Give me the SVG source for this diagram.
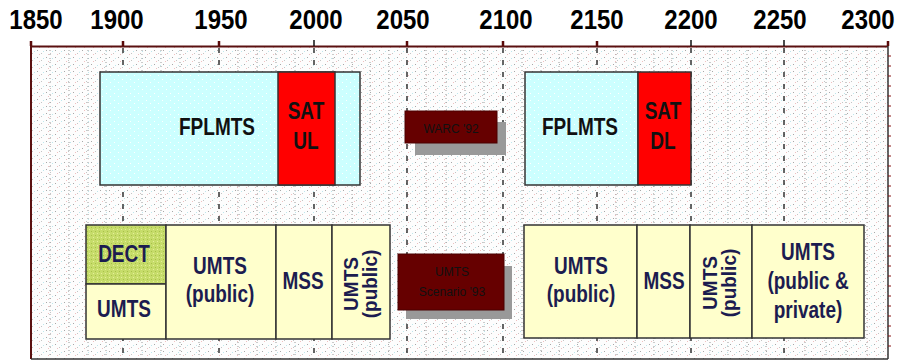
<svg xmlns="http://www.w3.org/2000/svg" width="898" height="362" viewBox="0 0 898 362">
<defs>
<pattern id="speck" width="9" height="7" patternUnits="userSpaceOnUse">
<rect width="9" height="7" fill="#fdfdfd"/>
<rect x="1" y="1" width="1" height="1" fill="#a8a8a8"/>
<rect x="5" y="4" width="1" height="1" fill="#c4c4c4"/>
<rect x="3" y="5" width="1" height="1" fill="#f2c0c0"/>
<rect x="7" y="2" width="1" height="1" fill="#bde8ee"/>
</pattern>
<pattern id="cyanspeck" width="8" height="7" patternUnits="userSpaceOnUse">
<rect width="8" height="7" fill="#ccffff"/>
<rect x="2" y="2" width="1" height="1" fill="#ffffff"/>
<rect x="6" y="5" width="1" height="1" fill="#ffffff"/>
</pattern>
<pattern id="greenspeck" width="4" height="4" patternUnits="userSpaceOnUse">
<rect width="4" height="4" fill="#c6dc6a"/>
<rect x="1" y="1" width="1" height="1" fill="#e6ee9a"/>
<rect x="3" y="3" width="1" height="1" fill="#a8c048"/>
</pattern>
</defs>
<style>
.yr{font-family:"Liberation Sans",Arial,sans-serif;font-weight:bold;font-size:24px;fill:#000;text-anchor:middle}
.lbl{font-family:"Liberation Sans",Arial,sans-serif;font-weight:bold;font-size:19px;text-anchor:middle}
.dk{fill:#111}
.nv{fill:#1c1c50}
.sm{font-family:"Liberation Sans",Arial,sans-serif;font-size:12px;fill:#111;text-anchor:middle}
.box{stroke:#333;stroke-width:1.5}
.major{stroke:#333;stroke-width:1.5;stroke-dasharray:5 7}
.minor{stroke:#999;stroke-width:1;stroke-dasharray:1 3}
.tick{stroke:#5a0a0a;stroke-width:2.5}
</style>
<g id="axis">
<rect x="31" y="46" width="857" height="313" fill="url(#speck)"/>
<g id="grid">
<line class="minor" x1="50" y1="50" x2="50" y2="356"/>
<line class="minor" x1="69" y1="50" x2="69" y2="356"/>
<line class="minor" x1="88" y1="50" x2="88" y2="356"/>
<line class="minor" x1="106" y1="50" x2="106" y2="356"/>
<line class="minor" x1="142" y1="50" x2="142" y2="356"/>
<line class="minor" x1="161" y1="50" x2="161" y2="356"/>
<line class="minor" x1="180" y1="50" x2="180" y2="356"/>
<line class="minor" x1="199" y1="50" x2="199" y2="356"/>
<line class="minor" x1="238" y1="50" x2="238" y2="356"/>
<line class="minor" x1="257" y1="50" x2="257" y2="356"/>
<line class="minor" x1="276" y1="50" x2="276" y2="356"/>
<line class="minor" x1="295" y1="50" x2="295" y2="356"/>
<line class="minor" x1="333" y1="50" x2="333" y2="356"/>
<line class="minor" x1="352" y1="50" x2="352" y2="356"/>
<line class="minor" x1="370" y1="50" x2="370" y2="356"/>
<line class="minor" x1="389" y1="50" x2="389" y2="356"/>
<line class="minor" x1="426" y1="50" x2="426" y2="356"/>
<line class="minor" x1="446" y1="50" x2="446" y2="356"/>
<line class="minor" x1="465" y1="50" x2="465" y2="356"/>
<line class="minor" x1="484" y1="50" x2="484" y2="356"/>
<line class="minor" x1="522" y1="50" x2="522" y2="356"/>
<line class="minor" x1="541" y1="50" x2="541" y2="356"/>
<line class="minor" x1="559" y1="50" x2="559" y2="356"/>
<line class="minor" x1="578" y1="50" x2="578" y2="356"/>
<line class="minor" x1="616" y1="50" x2="616" y2="356"/>
<line class="minor" x1="635" y1="50" x2="635" y2="356"/>
<line class="minor" x1="654" y1="50" x2="654" y2="356"/>
<line class="minor" x1="672" y1="50" x2="672" y2="356"/>
<line class="minor" x1="710" y1="50" x2="710" y2="356"/>
<line class="minor" x1="728" y1="50" x2="728" y2="356"/>
<line class="minor" x1="747" y1="50" x2="747" y2="356"/>
<line class="minor" x1="766" y1="50" x2="766" y2="356"/>
<line class="minor" x1="805" y1="50" x2="805" y2="356"/>
<line class="minor" x1="826" y1="50" x2="826" y2="356"/>
<line class="minor" x1="846" y1="50" x2="846" y2="356"/>
<line class="minor" x1="867" y1="50" x2="867" y2="356"/>
<line class="major" x1="123" y1="48" x2="123" y2="358"/>
<line class="major" x1="219" y1="48" x2="219" y2="358"/>
<line class="major" x1="314" y1="48" x2="314" y2="358"/>
<line class="major" x1="407" y1="48" x2="407" y2="358"/>
<line class="major" x1="503" y1="48" x2="503" y2="358"/>
<line class="major" x1="597" y1="48" x2="597" y2="358"/>
<line class="major" x1="691" y1="48" x2="691" y2="358"/>
<line class="major" x1="784" y1="48" x2="784" y2="358"/>
</g>
<line x1="31" y1="46.5" x2="888" y2="46.5" stroke="#5a1010" stroke-width="2"/>
<line x1="31" y1="45" x2="31" y2="359" stroke="#5a1010" stroke-width="2"/>
<line x1="31" y1="359" x2="888" y2="359" stroke="#333" stroke-width="1.5"/>
<line x1="888" y1="45" x2="888" y2="359" stroke="#333" stroke-width="1.5"/>
<g stroke="#8a1010" stroke-width="1">
<line x1="888" y1="56" x2="891" y2="56"/><line x1="888" y1="66" x2="891" y2="66"/><line x1="888" y1="76" x2="891" y2="76"/>
<line x1="888" y1="86" x2="891" y2="86"/><line x1="888" y1="96" x2="891" y2="96"/><line x1="888" y1="106" x2="891" y2="106"/>
<line x1="888" y1="116" x2="891" y2="116"/><line x1="888" y1="126" x2="891" y2="126"/><line x1="888" y1="136" x2="891" y2="136"/>
<line x1="888" y1="146" x2="891" y2="146"/><line x1="888" y1="156" x2="891" y2="156"/><line x1="888" y1="166" x2="891" y2="166"/>
<line x1="888" y1="176" x2="891" y2="176"/><line x1="888" y1="186" x2="891" y2="186"/><line x1="888" y1="196" x2="891" y2="196"/>
<line x1="888" y1="206" x2="891" y2="206"/><line x1="888" y1="216" x2="891" y2="216"/><line x1="888" y1="226" x2="891" y2="226"/>
<line x1="888" y1="236" x2="891" y2="236"/><line x1="888" y1="246" x2="891" y2="246"/><line x1="888" y1="256" x2="891" y2="256"/>
<line x1="888" y1="266" x2="891" y2="266"/><line x1="888" y1="276" x2="891" y2="276"/><line x1="888" y1="286" x2="891" y2="286"/>
<line x1="888" y1="296" x2="891" y2="296"/><line x1="888" y1="306" x2="891" y2="306"/><line x1="888" y1="316" x2="891" y2="316"/>
<line x1="888" y1="326" x2="891" y2="326"/><line x1="888" y1="336" x2="891" y2="336"/><line x1="888" y1="346" x2="891" y2="346"/>
</g>
<line class="tick" x1="31" y1="41" x2="31" y2="46"/>
<line class="tick" x1="123" y1="41" x2="123" y2="46"/>
<line class="tick" x1="219" y1="41" x2="219" y2="46"/>
<line x1="314" y1="40" x2="314" y2="46" stroke="#111" stroke-width="1.5"/>
<line class="tick" x1="407" y1="41" x2="407" y2="46"/>
<line class="tick" x1="503" y1="41" x2="503" y2="46"/>
<line class="tick" x1="597" y1="41" x2="597" y2="46"/>
<line x1="691" y1="40" x2="691" y2="46" stroke="#111" stroke-width="1.5"/>
<line x1="784" y1="40" x2="784" y2="46" stroke="#111" stroke-width="1.5"/>
<line class="tick" x1="888" y1="41" x2="888" y2="46"/>
<text class="yr" transform="translate(36,29) scale(1,1.12)">1850</text>
<text class="yr" transform="translate(117,29) scale(1,1.12)">1900</text>
<text class="yr" transform="translate(221,29) scale(1,1.12)">1950</text>
<text class="yr" transform="translate(316,29) scale(1,1.12)">2000</text>
<text class="yr" transform="translate(403,29) scale(1,1.12)">2050</text>
<text class="yr" transform="translate(506,29) scale(1,1.12)">2100</text>
<text class="yr" transform="translate(597,29) scale(1,1.12)">2150</text>
<text class="yr" transform="translate(691,29) scale(1,1.12)">2200</text>
<text class="yr" transform="translate(780,29) scale(1,1.12)">2250</text>
<text class="yr" transform="translate(868,29) scale(1,1.12)">2300</text>
</g>
<g id="connectors"/>
<g id="fplmts-left">
<rect class="box" x="100" y="72" width="260" height="113" fill="url(#cyanspeck)"/>
<text class="lbl dk" transform="translate(217,135) scale(1,1.22)">FPLMTS</text>
</g>
<g id="sat-ul">
<rect class="box" x="278" y="72" width="57" height="113" fill="#ff0000"/>
<text class="lbl dk" transform="translate(306,119) scale(1,1.22)">SAT</text>
<text class="lbl dk" transform="translate(306,149) scale(1,1.22)">UL</text>
</g>
<g id="warc92">
<rect x="415" y="122" width="91" height="33" fill="#999"/>
<rect x="405" y="111" width="92" height="32" fill="#660000" stroke="#4a0000" stroke-width="1"/>
<text class="sm" x="451" y="133">WARC '92</text>
</g>
<g id="fplmts-right">
<rect class="box" x="525" y="72" width="113" height="113" fill="url(#cyanspeck)"/>
<text class="lbl dk" transform="translate(580,135) scale(1,1.22)">FPLMTS</text>
</g>
<g id="sat-dl">
<rect class="box" x="638" y="72" width="53" height="113" fill="#ff0000"/>
<text class="lbl dk" transform="translate(663,119) scale(1,1.22)">SAT</text>
<text class="lbl dk" transform="translate(663,149) scale(1,1.22)">DL</text>
</g>
<g id="dect">
<rect class="box" x="86" y="225" width="80" height="59" fill="url(#greenspeck)"/>
<text class="lbl nv" transform="translate(124,262) scale(1,1.22)">DECT</text>
</g>
<g id="umts-left">
<rect class="box" x="86" y="284" width="80" height="55" fill="#ffffcc"/>
<text class="lbl nv" transform="translate(124,317) scale(1,1.22)">UMTS</text>
</g>
<g id="umts-public-1">
<rect class="box" x="166" y="225" width="110" height="114" fill="#ffffcc"/>
<text class="lbl nv" transform="translate(220,274) scale(1,1.22)">UMTS</text>
<text class="lbl nv" transform="translate(220,302) scale(1,1.22)">(public)</text>
</g>
<g id="mss-1">
<rect class="box" x="276" y="225" width="56" height="114" fill="#ffffcc"/>
<text class="lbl nv" transform="translate(303,289) scale(1,1.22)">MSS</text>
</g>
<g id="umts-public-2">
<rect class="box" x="332" y="225" width="58" height="114" fill="#ffffcc"/>
<text class="lbl nv" transform="translate(358,284) rotate(-90) scale(1,1.1)">UMTS</text>
<text class="lbl nv" transform="translate(377,284) rotate(-90) scale(1,1.1)">(public)</text>
</g>
<g id="umts-scenario93">
<rect x="406" y="266" width="106" height="53" fill="#999"/>
<rect x="398" y="254" width="106" height="56" fill="#660000" stroke="#4a0000" stroke-width="1"/>
<text class="sm" x="452" y="276">UMTS</text>
<text class="sm" x="452" y="296">Scenario '93</text>
</g>
<g id="umts-public-3">
<rect class="box" x="524" y="225" width="113" height="113" fill="#ffffcc"/>
<text class="lbl nv" transform="translate(581,274) scale(1,1.22)">UMTS</text>
<text class="lbl nv" transform="translate(581,302) scale(1,1.22)">(public)</text>
</g>
<g id="mss-2">
<rect class="box" x="637" y="225" width="53" height="113" fill="#ffffcc"/>
<text class="lbl nv" transform="translate(664,289) scale(1,1.22)">MSS</text>
</g>
<g id="umts-public-4">
<rect class="box" x="690" y="225" width="62" height="113" fill="#ffffcc"/>
<text class="lbl nv" transform="translate(717,283) rotate(-90) scale(1,1.1)">UMTS</text>
<text class="lbl nv" transform="translate(736,283) rotate(-90) scale(1,1.1)">(public)</text>
</g>
<g id="umts-public-private">
<rect class="box" x="752" y="225" width="112" height="113" fill="#ffffcc"/>
<text class="lbl nv" transform="translate(808,260) scale(1,1.22)">UMTS</text>
<text class="lbl nv" transform="translate(808,289) scale(1,1.22)">(public &amp;</text>
<text class="lbl nv" transform="translate(808,318) scale(1,1.22)">private)</text>
</g>
</svg>
